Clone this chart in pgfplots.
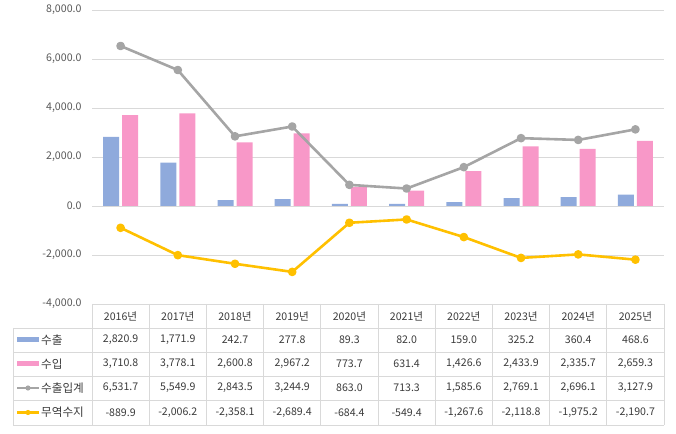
\documentclass[border=0pt]{standalone}
\usepackage{fontspec}
\setmainfont{Noto Sans CJK KR}
\usepackage{pgfplots}
\usepackage{pgfplotstable}
\pgfplotsset{compat=1.18}

\definecolor{exblue}{HTML}{8FAADC}
\definecolor{impink}{HTML}{F898C8}
\definecolor{totgray}{HTML}{A5A5A5}
\definecolor{balyellow}{HTML}{FFC000}
\definecolor{gridgray}{HTML}{D9D9D9}
\definecolor{txt}{HTML}{3A3A3A}

% yearly trade figures: exports, imports, total trade, balance
\pgfplotstableread{
year ex im tot bal
2016 2820.9 3710.8 6531.7 -889.9
2017 1771.9 3778.1 5549.9 -2006.2
2018 242.7 2600.8 2843.5 -2358.1
2019 277.8 2967.2 3244.9 -2689.4
2020 89.3 773.7 863.0 -684.4
2021 82.0 631.4 713.3 -549.4
2022 159.0 1426.6 1585.6 -1267.6
2023 325.2 2433.9 2769.1 -2118.8
2024 360.4 2335.7 2696.1 -1975.2
2025 468.6 2659.3 3127.9 -2190.7
}\data

\pgfkeys{/pgf/number format/.cd, fixed, fixed zerofill, precision=1, 1000 sep={,}, assume math mode=true}

\newcommand{\tfont}{\fontsize{10.6}{12}\selectfont}

\begin{document}
\begin{tikzpicture}
\path[use as bounding box] (0pt,0pt) rectangle (676pt,433pt);

\begin{axis}[
  at={(92pt,129pt)}, anchor=south west,
  scale only axis, width=572pt, height=294pt,
  xmin=-0.5, xmax=9.5, ymin=-4000, ymax=8000,
  ytick={-4000,-2000,0,2000,4000,6000,8000},
  xtick=\empty,
  ymajorgrids, grid style={draw=gridgray, line width=0.8pt},
  axis line style={draw=none},
  major tick length=0pt,
  yticklabel style={font=\tfont, text=txt!85, anchor=east, xshift=-7pt},
  clip=false,
]
\addplot[ybar, bar width=16pt, bar shift=-9.5pt, fill=exblue, draw=none]
  table[x expr=\coordindex, y=ex]{\data};
\addplot[ybar, bar width=16pt, bar shift=9.5pt, fill=impink, draw=none]
  table[x expr=\coordindex, y=im]{\data};
\addplot[draw=totgray, line width=2.6pt, line join=round, mark=*, mark size=3pt,
  mark options={fill=totgray, draw=none}]
  table[x expr=\coordindex, y=tot]{\data};
\addplot[draw=balyellow, line width=2.6pt, line join=round, mark=*, mark size=3pt,
  mark options={fill=balyellow, draw=none}]
  table[x expr=\coordindex, y=bal]{\data};
\end{axis}

% data table under the plot
\begin{scope}[draw=gridgray, line width=0.8pt]
  \draw (92pt,129pt) -- (664pt,129pt);
  \foreach \yy in {105,81,57,33,8} \draw (13pt,\yy pt) -- (664pt,\yy pt);
  \draw (13pt,105pt) -- (13pt,8pt);
  \foreach \k in {0,...,10} {
    \pgfmathsetmacro{\xx}{92+57.2*\k}
    \draw (\xx pt,129pt) -- (\xx pt,8pt);
  }
\end{scope}

% row keys and names
\fill[exblue] (17pt,90.5pt) rectangle (39pt,95.5pt);
\fill[impink] (17pt,66.5pt) rectangle (39pt,71.5pt);
\draw[totgray, line width=2.4pt] (17pt,45pt) -- (39pt,45pt);
\fill[totgray] (28pt,45pt) circle (2.6pt);
\draw[balyellow, line width=2.4pt] (17pt,20.5pt) -- (39pt,20.5pt);
\fill[balyellow] (28pt,20.5pt) circle (2.6pt);
\begin{scope}[every node/.style={anchor=west, inner sep=0pt, font=\fontsize{11.6}{13}\selectfont, text=txt}]
  \node at (41pt,93pt) {수출};
  \node at (41pt,69pt) {수입};
  \node at (41pt,45pt) {수출입계};
  \node at (41pt,20.5pt) {무역수지};
\end{scope}

\foreach \i in {0,...,9} {
  \pgfmathsetmacro{\cx}{120.6+57.2*\i}
  \pgfplotstablegetelem{\i}{year}\of\data \let\vy\pgfplotsretval
  \node[font=\tfont, text=txt] at (\cx pt,117pt) {\vy{}년};
  \pgfplotstablegetelem{\i}{ex}\of\data \let\va\pgfplotsretval
  \node[font=\tfont, text=txt] at (\cx pt,93pt) {\pgfmathprintnumber{\va}};
  \pgfplotstablegetelem{\i}{im}\of\data \let\vb\pgfplotsretval
  \node[font=\tfont, text=txt] at (\cx pt,69pt) {\pgfmathprintnumber{\vb}};
  \pgfplotstablegetelem{\i}{tot}\of\data \let\vc\pgfplotsretval
  \node[font=\tfont, text=txt] at (\cx pt,45pt) {\pgfmathprintnumber{\vc}};
  \pgfplotstablegetelem{\i}{bal}\of\data \let\vd\pgfplotsretval
  \node[font=\tfont, text=txt] at (\cx pt,20.5pt) {\pgfmathprintnumber{\vd}};
}
\end{tikzpicture}
\end{document}
